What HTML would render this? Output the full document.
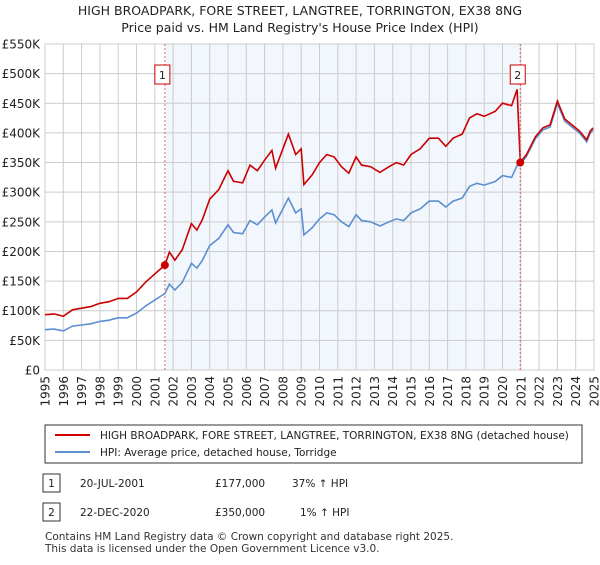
<!DOCTYPE html>
<html><head><meta charset="utf-8"><style>
body{margin:0;background:#fff;font-family:"Liberation Sans","DejaVu Sans",sans-serif;}
svg text{font-family:"DejaVu Sans","Liberation Sans",sans-serif;}
</style></head><body>
<svg id="c" width="600" height="560" xmlns="http://www.w3.org/2000/svg">
<text x="300" y="15" text-anchor="middle" font-size="12.5" fill="#222">HIGH BROADPARK, FORE STREET, LANGTREE, TORRINGTON, EX38 8NG</text>
<text x="300" y="32" text-anchor="middle" font-size="12.5" fill="#222">Price paid vs. HM Land Registry's House Price Index (HPI)</text>
<g id="plot"></g>
<rect x="45" y="425" width="537" height="38" fill="#fff" stroke="#333"/>
<line x1="55" y1="435" x2="90" y2="435" stroke="#cc0000" stroke-width="2"/>
<text x="100" y="439" font-size="10.5" fill="#222">HIGH BROADPARK, FORE STREET, LANGTREE, TORRINGTON, EX38 8NG (detached house)</text>
<line x1="55" y1="452" x2="90" y2="452" stroke="#5b8fd0" stroke-width="2"/>
<text x="100" y="456" font-size="10.5" fill="#222">HPI: Average price, detached house, Torridge</text>
<g font-size="10.5" fill="#222">
<rect x="43" y="474" width="17" height="18" fill="#fff" stroke="#333"/><text x="51.5" y="487" text-anchor="middle">1</text>
<text x="80" y="487">20-JUL-2001</text><text x="215" y="487">£177,000</text><text x="292" y="487">37% ↑ HPI</text>
<rect x="43" y="503" width="17" height="18" fill="#fff" stroke="#333"/><text x="51.5" y="516" text-anchor="middle">2</text>
<text x="80" y="516">22-DEC-2020</text><text x="215" y="516">£350,000</text><text x="300" y="516">1% ↑ HPI</text>
</g>
<text x="45" y="540" font-size="10.5" fill="#333">Contains HM Land Registry data © Crown copyright and database right 2025.</text>
<text x="45" y="552" font-size="10.5" fill="#333">This data is licensed under the Open Government Licence v3.0.</text>
</svg>
<script>
const hpiYears=[1995.0,1995.5,1996.0,1996.5,1997.0,1997.5,1998.0,1998.5,1999.0,1999.5,2000.0,2000.5,2001.0,2001.55,2001.8,2002.1,2002.5,2003.0,2003.3,2003.6,2004.0,2004.5,2005.0,2005.3,2005.8,2006.2,2006.6,2007.0,2007.4,2007.6,2008.0,2008.3,2008.7,2009.0,2009.15,2009.6,2010.0,2010.4,2010.8,2011.2,2011.6,2012.0,2012.3,2012.8,2013.3,2013.8,2014.2,2014.6,2015.0,2015.5,2016.0,2016.5,2016.9,2017.3,2017.8,2018.2,2018.6,2019.0,2019.6,2020.0,2020.5,2020.8,2020.97,2021.3,2021.8,2022.2,2022.6,2023.0,2023.4,2023.8,2024.2,2024.6,2024.8,2024.95];
const hpiValues=[68,69,66,74,76,78,82,84,88,88,96,108,118,129,145,135,148,180,172,185,210,222,245,232,230,252,245,258,270,248,272,290,265,272,228,240,255,265,262,250,242,262,252,250,243,250,255,252,265,272,285,285,275,285,290,310,315,312,318,328,325,345,347,360,390,405,410,450,420,410,400,385,400,405];
const saleYears=[2001.55,2020.97];
const salePrices=[177,350];
const yTicks=[0,50,100,150,200,250,300,350,400,450,500,550];
const xTicks=[1995,1996,1997,1998,1999,2000,2001,2002,2003,2004,2005,2006,2007,2008,2009,2010,2011,2012,2013,2014,2015,2016,2017,2018,2019,2020,2021,2022,2023,2024,2025];
const NS="http://www.w3.org/2000/svg";
const X0=45,X1=594,Y0=370,Y1=44;
const xs=y=>X0+(y-1995)/30*(X1-X0);
const ys=v=>Y0-v/550*(Y0-Y1);
const g=document.getElementById('plot');
function mk(t,a){const e=document.createElementNS(NS,t);for(const k in a)e.setAttribute(k,a[k]);g.appendChild(e);return e;}
let r=mk('rect',{x:xs(saleYears[0]),y:Y1,width:xs(saleYears[1])-xs(saleYears[0]),height:Y0-Y1,fill:'#f2f6fd'});


yTicks.forEach(v=>{
 let l=mk('line',{x1:X0,x2:X1,y1:ys(v),y2:ys(v),stroke:'#cccccc'});
 
 
 let t=mk('text',{x:40,y:ys(v)+4.5,'text-anchor':'end','font-size':'12',fill:'#222'});
 t.textContent=v===0?'£0':'£'+v+'K';
 
 
});
xTicks.forEach(yr=>{
 let l=mk('line',{x1:xs(yr),x2:xs(yr),y1:Y1,y2:Y0,stroke:'#cccccc'});
 
 
 let t=mk('text',{x:0,y:0,'text-anchor':'end','font-size':'12',fill:'#222',transform:`translate(${xs(yr)+4.5},${Y0+6}) rotate(-90)`});
 t.textContent=yr;
 
 
});
let ax=mk('rect',{x:X0,y:Y1,width:X1-X0,height:Y0-Y1,fill:'none',stroke:'#cccccc'});


// property price line: HPI indexed to most recent sale
function hpiAt(y){for(let i=0;i<hpiYears.length-1;i++){if(y<=hpiYears[i+1]){const f=(y-hpiYears[i])/(hpiYears[i+1]-hpiYears[i]);return hpiValues[i]+f*(hpiValues[i+1]-hpiValues[i]);}}return hpiValues[hpiValues.length-1];}
let bp=hpiYears.map((y,i)=>`${i?'L':'M'}${xs(y).toFixed(1)},${ys(hpiValues[i]).toFixed(1)}`).join('');
let rp='';
hpiYears.forEach((y,i)=>{
 let k=y<saleYears[1]?0:1;
 if(k===1&&hpiYears[i-1]<saleYears[1]){rp+=`L${xs(saleYears[1]).toFixed(1)},${ys(salePrices[1]).toFixed(1)}`;}
 const v=hpiValues[i]*salePrices[k]/hpiAt(saleYears[k]);
 rp+=`${rp?'L':'M'}${xs(y).toFixed(1)},${ys(v).toFixed(1)}`;
});
let bl=mk('path',{d:bp,fill:'none',stroke:'#5b8fd0','stroke-width':1.6});


let rl=mk('path',{d:rp,fill:'none',stroke:'#cc0000','stroke-width':1.6});


saleYears.forEach((y,i)=>{
 let l=mk('line',{x1:xs(y),x2:xs(y),y1:Y1,y2:Y0,stroke:'#e06060','stroke-dasharray':'2,2'});
 
 
 let c=mk('circle',{cx:xs(y),cy:ys(salePrices[i]),r:4,fill:'#cc0000'});
 
 
 let b=mk('rect',{x:xs(y)-10,y:65,width:15,height:19,fill:'#fff',stroke:'#cc0000'});
 
 
 let t=mk('text',{x:xs(y)-2.5,y:79,'text-anchor':'middle','font-size':'11',fill:'#222'});
 t.textContent=String(i+1);
 
 
});
</script>
</body></html>
